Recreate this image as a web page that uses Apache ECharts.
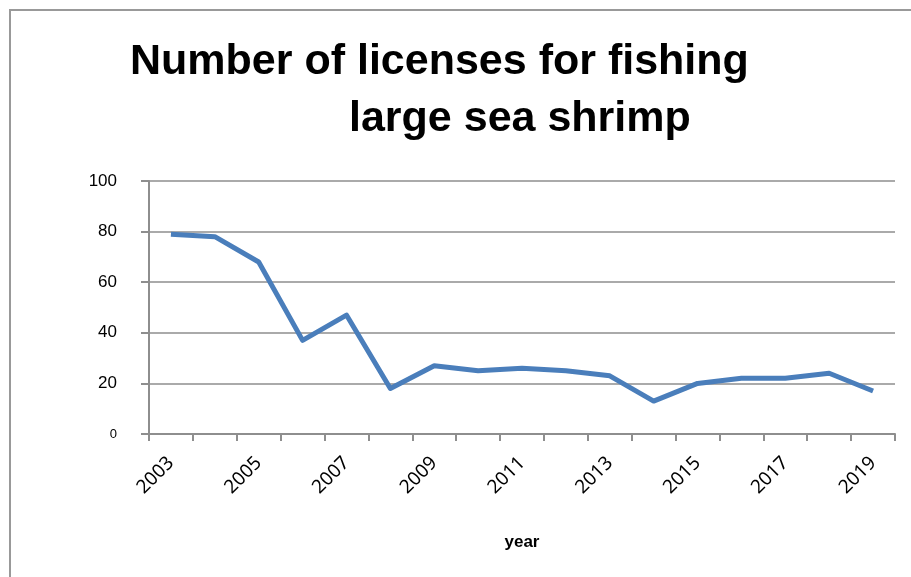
<!DOCTYPE html>
<html>
<head>
<meta charset="utf-8">
<script src="https://cdn.jsdelivr.net/npm/echarts@6/dist/echarts.min.js"></script>
<style>
  html, body { margin: 0; padding: 0; background: #fff; }
  #chart { width: 911px; height: 577px; }
</style>
</head>
<body>
<div id="chart"></div>
<script>
const years = ['2003', '2004', '2005', '2006', '2007', '2008', '2009', '2010', '2011',
  '2012', '2013', '2014', '2015', '2016', '2017', '2018', '2019'];
const licenses = [79, 78, 68, 37, 47, 18, 27, 25, 26, 25, 23, 13, 20, 22, 22, 24, 17];

const titleLine1 = 'Number of licenses for fishing';
const titleLine2 = 'large sea shrimp';
const xName = 'year';

const gray = '#8e8e8e';
const titleFont = { fontFamily: 'Liberation Sans', fontWeight: 'bold', fontSize: 43, color: '#000' };

const chart = echarts.init(document.getElementById('chart'));
chart.setOption({
  animation: false,
  backgroundColor: '#fff',
  graphic: [{
    type: 'rect',
    shape: { x: 10, y: 10, width: 950, height: 600 },
    style: { fill: 'none', stroke: '#999', lineWidth: 2 },
    silent: true
  }],
  title: [
    { text: titleLine1, left: 130, top: 41, padding: 0, textStyle: titleFont },
    { text: titleLine2, left: 349, top: 98, padding: 0, textStyle: titleFont }
  ],
  grid: { left: 149, right: 16, top: 181, bottom: 143 },
  xAxis: {
    type: 'category',
    data: years,
    boundaryGap: true,
    name: xName,
    nameLocation: 'middle',
    nameGap: 100,
    nameTextStyle: { fontFamily: 'Liberation Sans', fontWeight: 'bold', fontSize: 17, color: '#000' },
    axisLine: { lineStyle: { color: gray, width: 2 } },
    axisTick: { show: true, length: 7, interval: 0, lineStyle: { color: gray, width: 2 } },
    axisLabel: {
      interval: 1,
      rotate: 45,
      margin: 26,
      fontFamily: 'Noto Sans',
      fontSize: 19,
      color: '#000'
    }
  },
  yAxis: {
    type: 'value',
    min: 0,
    max: 100,
    interval: 20,
    axisLine: { show: true, lineStyle: { color: gray, width: 2 } },
    axisTick: { show: true, length: 8, lineStyle: { color: gray, width: 2 } },
    splitLine: { lineStyle: { color: gray, width: 1.5 } },
    axisLabel: {
      margin: 32,
      fontFamily: 'Liberation Sans',
      fontSize: 17,
      color: '#000',
      formatter: v => v === 0 ? '{s|0}' : String(v),
      rich: { s: { fontFamily: 'Liberation Sans', fontSize: 13, color: '#000' } }
    }
  },
  series: [{
    type: 'line',
    data: licenses,
    showSymbol: false,
    lineStyle: { color: '#4a7ebb', width: 5, join: 'round' },
    itemStyle: { color: '#4a7ebb' }
  }]
});
</script>
</body>
</html>
